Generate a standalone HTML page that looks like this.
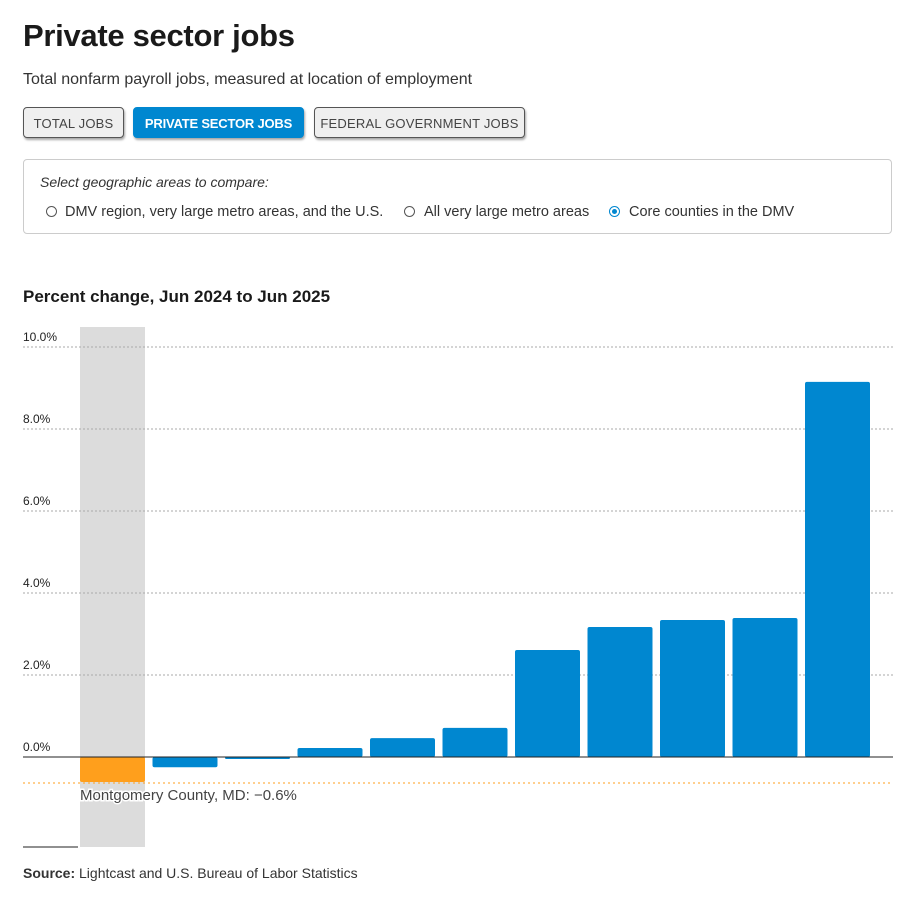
<!DOCTYPE html>
<html><head><meta charset="utf-8">
<style>
body{margin:0;width:918px;height:899px;background:#fff;font-family:"Liberation Sans",sans-serif;color:#222;position:relative;overflow:hidden}
.abs{position:absolute}
h1{position:absolute;left:23px;top:18px;margin:0;font-size:31px;font-weight:bold;color:#1a1a1a;letter-spacing:-0.3px}
.sub{left:23px;top:71px;font-size:16px;color:#333}
.btn{position:absolute;top:107px;height:31px;border:1px solid #555;border-radius:4px;background:#efefef;box-shadow:1px 2px 2px rgba(0,0,0,.35);font-size:13px;color:#444;line-height:31px;text-align:center;box-sizing:border-box;letter-spacing:0.2px}
.btn.on{background:#0087d0;border-color:#0087d0;color:#fff;font-weight:bold;letter-spacing:-0.2px}
.box{left:23px;top:159px;width:869px;height:75px;border:1px solid #ccc;border-radius:4px;box-sizing:border-box}
.radio{position:absolute;top:206px;width:11px;height:11px;border:1px solid #555;border-radius:50%;box-sizing:border-box}
.rl{position:absolute;top:204px;font-size:14.5px;color:#333}
</style></head><body>
<h1>Private sector jobs</h1>
<div class="abs sub">Total nonfarm payroll jobs, measured at location of employment</div>
<div class="btn" style="left:23px;width:101px">TOTAL JOBS</div>
<div class="btn on" style="left:133px;width:171px">PRIVATE SECTOR JOBS</div>
<div class="btn" style="left:314px;width:211px">FEDERAL GOVERNMENT JOBS</div>
<div class="abs box"></div>
<div class="abs" style="left:40px;top:174px;font-size:14px;font-style:italic;color:#333">Select geographic areas to compare:</div>
<div class="radio" style="left:46px"></div>
<div class="rl" style="left:65px">DMV region, very large metro areas, and the U.S.</div>
<div class="radio" style="left:404px"></div>
<div class="rl" style="left:424px">All very large metro areas</div>
<div class="radio" style="left:609px;border-color:#0087d0"><div style="position:absolute;left:2px;top:2px;width:5px;height:5px;border-radius:50%;background:#0087d0"></div></div>
<div class="rl" style="left:629px">Core counties in the DMV</div>
<div class="abs" style="left:23px;top:287px;font-size:17px;font-weight:bold;color:#1a1a1a">Percent change, Jun 2024 to Jun 2025</div>
<svg class="abs" style="left:0;top:0" width="918" height="899" id="chart"></svg>
<div class="abs" style="left:23px;top:865px;font-size:14px;color:#333"><b>Source:</b> Lightcast and U.S. Bureau of Labor Statistics</div>
<script>
const categories=["Montgomery County, MD","County 2","County 3","County 4","County 5","County 6","County 7","County 8","County 9","County 10","County 11"];
const values=[-0.61,-0.25,-0.05,0.22,0.46,0.71,2.61,3.17,3.34,3.39,9.15];
const ticks=[0,2,4,6,8,10];
const tickLabels=["0.0%","2.0%","4.0%","6.0%","8.0%","10.0%"];
const highlightIndex=0;
const NS="http://www.w3.org/2000/svg";
const svg=document.getElementById('chart');
const y=v=>757-v*41;
const bandX=i=>80+i*72.5;
const bw=65;
function mk(t,a){const e=document.createElementNS(NS,t);for(const k in a)e.setAttribute(k,a[k]);svg.appendChild(e);return e;}
let hb=mk('rect',{x:bandX(highlightIndex),y:327,width:bw,height:520,fill:'#dcdcdc'});


ticks.forEach((t,i)=>{
  if(t!==0){let g=mk('line',{x1:23,x2:893,y1:y(t),y2:y(t),stroke:'#aaa','stroke-dasharray':'2,2'});
  
  }
  let tx=mk('text',{x:23,y:y(t)-6,'font-size':12,fill:'#222','font-family':'Liberation Sans, sans-serif'});
  tx.textContent=tickLabels[i];
  
  
});
values.forEach((v,i)=>{
  const y0=Math.min(y(v),y(0)),h=Math.max(Math.abs(y(v)-y(0)),1.5);
  let r=mk('rect',{x:bandX(i),y:y0,width:bw,height:h,rx:2,fill:i===highlightIndex?'#ff9f1c':'#0087d0'});
  
  
});
let zl=mk('line',{x1:23,x2:893,y1:y(0),y2:y(0),stroke:'#222','stroke-width':1});


let rl=mk('line',{x1:23,x2:893,y1:y(values[highlightIndex])+1,y2:y(values[highlightIndex])+1,stroke:'#ff9f1c','stroke-dasharray':'2,3'});


let bl=mk('line',{x1:23,x2:78,y1:847,y2:847,stroke:'#222'});


let lab=mk('text',{x:bandX(highlightIndex),y:y(values[highlightIndex])+18,'font-size':15,fill:'#444','font-family':'Liberation Sans, sans-serif',stroke:'#fff','stroke-width':3,'paint-order':'stroke'});
lab.textContent=categories[highlightIndex]+": \u2212"+Math.abs(values[highlightIndex]).toFixed(1)+"%";


</script>
</body></html>
